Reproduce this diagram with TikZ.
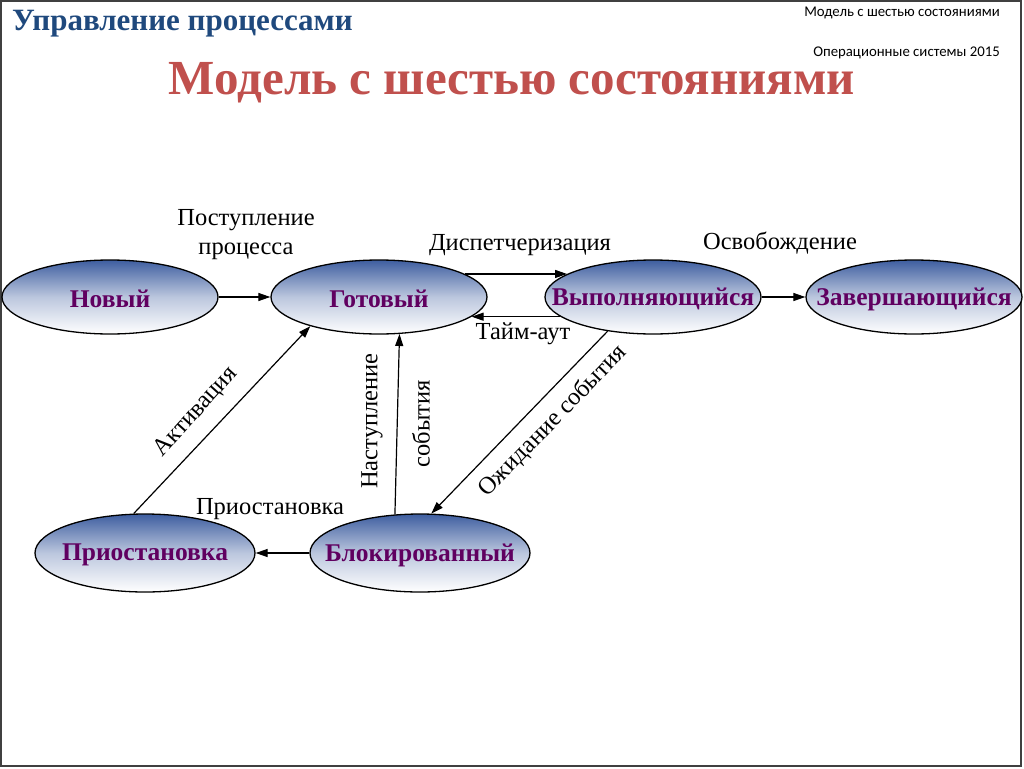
\documentclass[tikz,border=0pt]{standalone}
\usepackage{fontspec}
\setmainfont{Liberation Serif}
\newfontfamily\calib{Carlito}
\usetikzlibrary{shapes.geometric,arrows.meta}
\definecolor{titleRed}{RGB}{192,80,77}
\definecolor{headBlue}{RGB}{31,73,125}
\definecolor{nodeText}{RGB}{96,0,96}
\definecolor{ellTop}{RGB}{62,94,160}
\begin{document}
\begin{tikzpicture}[x=1pt,y=-1pt,
 st/.style={ellipse,draw=black,line width=1.3pt,top color=ellTop,bottom color=white,middle color=ellTop!35!white,minimum width=216pt,minimum height=74pt,inner sep=0pt,
   label={[font=\fontsize{25.5}{30}\selectfont\bfseries,text=nodeText,inner sep=0pt,yshift=-2pt]center:#1}},
 stb/.style={st=#1,minimum width=220pt,minimum height=78pt},
 arr/.style={line width=1.2pt,-{Triangle[length=12pt,width=8pt]}},
 lbl/.style={font=\fontsize{24.5}{29}\selectfont,inner sep=0pt,text=black}]
\useasboundingbox (0,0) rectangle (1024,768);
\draw[line width=1.5pt, black!75] (1,1) rectangle (1021,766);
% headings
\node[anchor=west,inner sep=0pt,text=headBlue,font=\fontsize{31}{35}\selectfont\bfseries] (head) at (12,24) {Управление процессами};
\node[inner sep=0pt,text=titleRed,font=\fontsize{49}{56}\selectfont\bfseries] (title) at (512,83) {Модель с шестью состояниями};
\node[anchor=east,inner sep=0pt,font=\calib\fontsize{14.8}{17}\selectfont] (tr1) at (1000,13) {Модель с шестью состояниями};
\node[anchor=east,inner sep=0pt,font=\calib\fontsize{14.8}{17}\selectfont] (tr2) at (1000,53) {Операционные системы 2015};
% states
\node[st=Новый] (new) at (110,297) {};
\node[st=Готовый] (ready) at (379,297) {};
\node[st=Выполняющийся] (run) at (653,297) {};
\node[st=Завершающийся] (exit) at (914,297) {};
\node[stb=Приостановка] (susp) at (145,553) {};
\node[stb=Блокированный] (block) at (420,553) {};
% transitions
\draw[arr] (new.east) -- (ready.west);
\draw[arr] (ready.15) -- (run.165);
\draw[arr] (run.192) -- (ready.-12);
\draw[arr] (run.east) -- (exit.west);
\draw[arr] (run.217) -- (block.74);
\draw[arr] (block.123.5) -- (ready.-61.7);
\draw[arr] (block.west) -- (susp.east);
\draw[arr] (susp.106) -- (ready.203);
% labels
\node[lbl,align=center] (l1) at (246,235) {Поступление\\процесса};
\node[lbl] (l2) at (520,245) {Диспетчеризация};
\node[lbl] (l3) at (780,243) {Освобождение};
\node[lbl] (l4) at (523,334) {Тайм-аут};
\node[lbl,rotate=90] (l5) at (372,421) {Наступление};
\node[lbl,rotate=90] (l6) at (421,424) {события};
\node[lbl,rotate=46] (l7) at (553,421) {Ожидание события};
\node[lbl,rotate=48] (l8) at (196,412) {Активация};
\node[lbl] (l9) at (270,509) {Приостановка};
\end{tikzpicture}
\end{document}
